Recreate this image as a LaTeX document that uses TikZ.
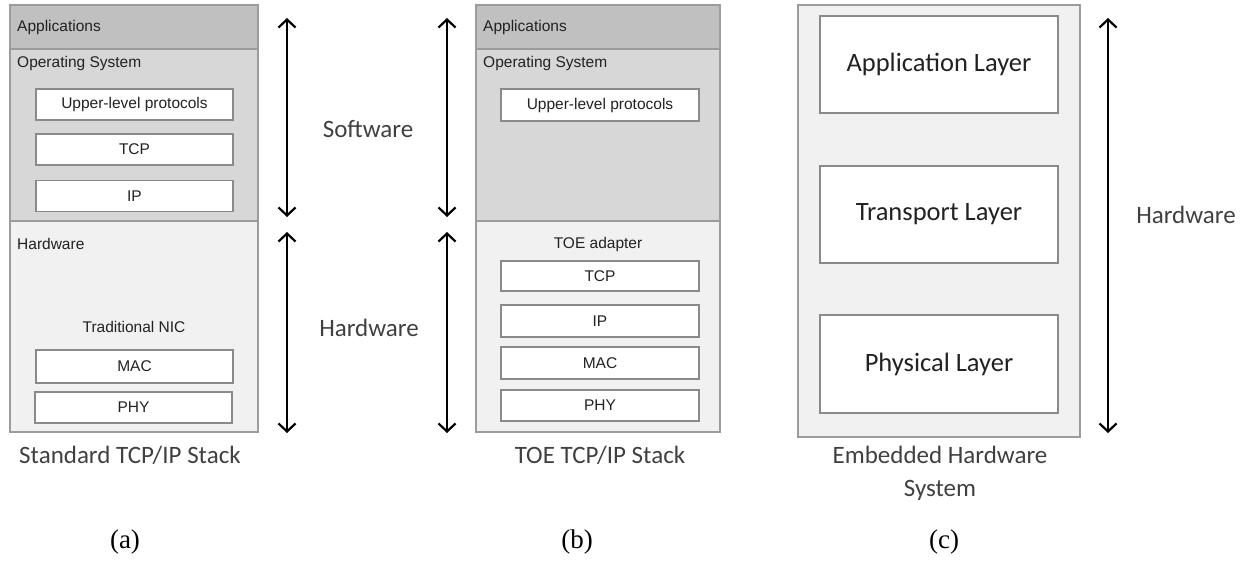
\documentclass[tikz,border=0pt]{standalone}
\usepackage{fontspec}
\setmainfont{Liberation Serif}
\newfontfamily\smallsans{Liberation Sans}
\newfontfamily\bigsans{Carlito}
\usetikzlibrary{arrows.meta}

\definecolor{appgray}{HTML}{C0C0C0}
\definecolor{osgray}{HTML}{D7D7D7}
\definecolor{hwgray}{HTML}{F1F1F1}
\definecolor{edgegray}{HTML}{9C9C9C}
\definecolor{inneredge}{HTML}{8A8A8A}
\definecolor{inktext}{HTML}{222222}
\definecolor{captext}{HTML}{404040}

\tikzset{
  band/.style={draw=edgegray, line width=1.6pt, inner sep=0pt, outer sep=0pt},
  layerbox/.style={draw=inneredge, fill=white, line width=1.4pt, inner sep=0pt,
    font=\smallsans\fontsize{15.5}{18}\selectfont, text=inktext},
  biglayer/.style={draw=inneredge, fill=white, line width=1.4pt, inner sep=0pt,
    font=\bigsans\fontsize{26.5}{30}\selectfont, text=inktext},
  tag/.style={font=\smallsans\fontsize{15.5}{18}\selectfont, text=inktext, inner sep=0pt},
  side/.style={font=\bigsans\fontsize{25}{30}\selectfont, text=captext, inner sep=0pt},
  caption/.style={font=\bigsans\fontsize{25}{33}\selectfont, text=captext, inner sep=0pt, align=center},
  panelmark/.style={font=\fontsize{27}{30}\selectfont, inner sep=0pt},
  span/.style={line width=2.2pt, {Straight Barb[length=8pt,width=17pt,line width=2.2pt]}-{Straight Barb[length=8pt,width=17pt,line width=2.2pt]}},
}

\begin{document}
\begin{tikzpicture}[x=1pt, y=-1pt]
\useasboundingbox (0,0) rectangle (1250,564);

% ---------- (a) standard TCP/IP stack ----------
\node[band, fill=appgray, minimum width=248pt, minimum height=44pt] (aApp) at (134,27) {};
\node[band, fill=osgray,  minimum width=248pt, minimum height=172pt] (aOS) at (134,135) {};
\node[band, fill=hwgray,  minimum width=248pt, minimum height=211pt] (aHW) at (134,326.5) {};
\node[tag, anchor=west] (aAppT) at (17,27) {Applications};
\node[tag, anchor=west] (aOST) at (17,63) {Operating System};
\node[tag, anchor=west] (aHWT) at (17,244) {Hardware};
\node[layerbox, minimum width=197pt, minimum height=31pt] (aULP) at (134.5,104.5) {Upper-level protocols};
\node[layerbox, minimum width=197pt, minimum height=31pt] (aTCP) at (134.5,149.5) {TCP};
\node[layerbox, minimum width=197pt, minimum height=31pt] (aIP)  at (134.5,196) {IP};
\node[tag] (aNIC) at (134,327) {Traditional NIC};
\node[layerbox, minimum width=197pt, minimum height=33pt] (aMAC) at (134.5,366.5) {MAC};
\node[layerbox, minimum width=197pt, minimum height=31pt] (aPHY) at (133.5,407.5) {PHY};
\node[caption] (aCap) at (130,455) {Standard TCP/IP Stack};
\node[panelmark] (aMark) at (125,542) {(a)};

% ---------- (b) TOE TCP/IP stack ----------
\node[band, fill=appgray, minimum width=244pt, minimum height=44pt] (bApp) at (598,27) {};
\node[band, fill=osgray,  minimum width=244pt, minimum height=172pt] (bOS) at (598,135) {};
\node[band, fill=hwgray,  minimum width=244pt, minimum height=211pt] (bHW) at (598,326.5) {};
\node[tag, anchor=west] (bAppT) at (483,27) {Applications};
\node[tag, anchor=west] (bOST) at (483,63) {Operating System};
\node[layerbox, minimum width=198pt, minimum height=32pt] (bULP) at (600,105) {Upper-level protocols};
\node[tag] (bTOE) at (598,244) {TOE adapter};
\node[layerbox, minimum width=198pt, minimum height=30pt] (bTCP) at (600,276) {TCP};
\node[layerbox, minimum width=198pt, minimum height=32pt] (bIP)  at (600,321) {IP};
\node[layerbox, minimum width=198pt, minimum height=32pt] (bMAC) at (600,363) {MAC};
\node[layerbox, minimum width=198pt, minimum height=31pt] (bPHY) at (600,405.5) {PHY};
\node[caption] (bCap) at (600,455) {TOE TCP/IP Stack};
\node[panelmark] (bMark) at (577,542) {(b)};

% ---------- software / hardware spans for (a) and (b) ----------
\coordinate (aSwTop) at (287,18);  \coordinate (aSwBot) at (287,217);
\coordinate (aHwTop) at (287,232); \coordinate (aHwBot) at (287,433);
\coordinate (bSwTop) at (447,18);  \coordinate (bSwBot) at (447,217);
\coordinate (bHwTop) at (447,232); \coordinate (bHwBot) at (447,433);
\draw[span] (aSwTop) -- (aSwBot);
\draw[span] (aHwTop) -- (aHwBot);
\draw[span] (bSwTop) -- (bSwBot);
\draw[span] (bHwTop) -- (bHwBot);
\node[side] (swLbl) at (368,129) {Software};
\node[side] (hwLbl) at (369,328) {Hardware};

% ---------- (c) embedded hardware system ----------
\node[band, fill=hwgray, minimum width=282pt, minimum height=432pt] (cSys) at (939,221) {};
\node[biglayer, minimum width=238pt, minimum height=97pt] (cApp) at (939,64.5) {Application Layer};
\node[biglayer, minimum width=238pt, minimum height=97pt] (cTra) at (939,214.5) {Transport Layer};
\node[biglayer, minimum width=238pt, minimum height=98pt] (cPhy) at (939,364) {Physical Layer};
\node[caption] (cCap) at (940,473) {Embedded Hardware\\System};
\node[panelmark] (cMark) at (944,542) {(c)};
\coordinate (cTop) at (1108,18); \coordinate (cBot) at (1108,433);
\draw[span] (cTop) -- (cBot);
\node[side] (cLbl) at (1186,215) {Hardware};
\end{tikzpicture}
\end{document}
